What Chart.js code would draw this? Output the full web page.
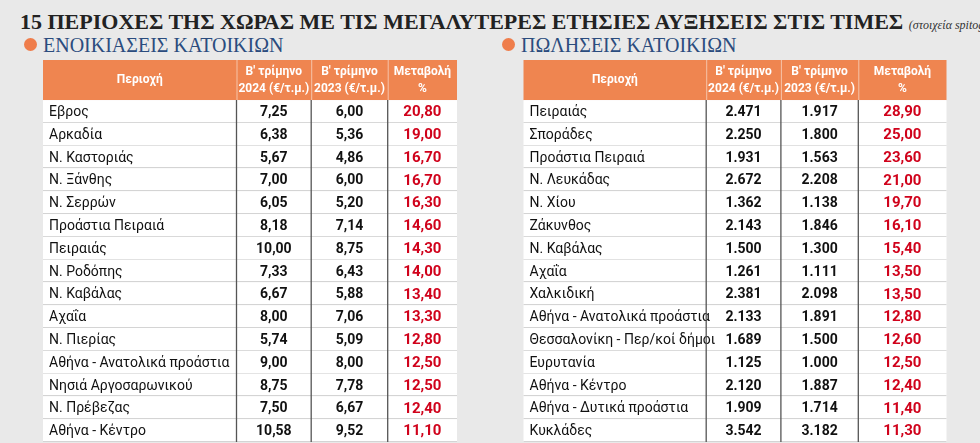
<!DOCTYPE html>
<html><head><meta charset="utf-8">
<script src="https://cdn.jsdelivr.net/npm/chart.js@4/dist/chart.umd.min.js"></script>
<style>
body{margin:0;background:#e9e9e9;width:980px;height:443px;overflow:hidden;position:relative;font-family:Roboto,sans-serif}
.t{position:absolute;left:20px;top:9px;font:bold 22px "Liberation Serif",serif;color:#222;white-space:nowrap}
.t small{font:italic 12px "Liberation Serif",serif;font-weight:normal;color:#333}
.s{position:absolute;top:34px;font:20px "Liberation Serif",serif;color:#2b4c7e;white-space:nowrap}
.s b{display:inline-block;width:13px;height:13px;border-radius:50%;background:#ef7d4b;margin-right:6px;vertical-align:1px}
canvas{position:absolute}
</style></head><body>
<div class="t">15 ΠΕΡΙΟΧΕΣ ΤΗΣ ΧΩΡΑΣ ΜΕ ΤΙΣ ΜΕΓΑΛΥΤΕΡΕΣ ΕΤΗΣΙΕΣ ΑΥΞΗΣΕΙΣ ΣΤΙΣ ΤΙΜΕΣ <small>(στοιχεία spitogatos)</small></div>
<div class="s" style="left:24px"><b></b>ΕΝΟΙΚΙΑΣΕΙΣ ΚΑΤΟΙΚΙΩΝ</div>
<div class="s" style="left:502px"><b></b>ΠΩΛΗΣΕΙΣ ΚΑΤΟΙΚΙΩΝ</div>
<div style="position:absolute;left:20px;top:60px;width:460px;height:382px"><canvas id="c1"></canvas></div>
<div style="position:absolute;left:500px;top:60px;width:470px;height:382px"><canvas id="c2"></canvas></div>
<script>
const headers = ["Περιοχή", "Β' τρίμηνο\n2024 (€/τ.μ.)", "Β' τρίμηνο\n2023 (€/τ.μ.)", "Μεταβολή\n%"];

const rentAreas = ["Εβρος","Αρκαδία","Ν. Καστοριάς","Ν. Ξάνθης","Ν. Σερρών","Προάστια Πειραιά","Πειραιάς","Ν. Ροδόπης","Ν. Καβάλας","Αχαΐα","Ν. Πιερίας","Αθήνα - Ανατολικά προάστια","Νησιά Αργοσαρωνικού","Ν. Πρέβεζας","Αθήνα - Κέντρο"];
const rent2024 = [7.25,6.38,5.67,7.00,6.05,8.18,10.00,7.33,6.67,8.00,5.74,9.00,8.75,7.50,10.58];
const rent2023 = [6.00,5.36,4.86,6.00,5.20,7.14,8.75,6.43,5.88,7.06,5.09,8.00,7.78,6.67,9.52];
const rentChange = [20.80,19.00,16.70,16.70,16.30,14.60,14.30,14.00,13.40,13.30,12.80,12.50,12.50,12.40,11.10];

const saleAreas = ["Πειραιάς","Σποράδες","Προάστια Πειραιά","Ν. Λευκάδας","Ν. Χίου","Ζάκυνθος","Ν. Καβάλας","Αχαΐα","Χαλκιδική","Αθήνα - Ανατολικά προάστια","Θεσσαλονίκη - Περ/κοί δήμοι","Ευρυτανία","Αθήνα - Κέντρο","Αθήνα - Δυτικά προάστια","Κυκλάδες"];
const sale2024 = [2471,2250,1931,2672,1362,2143,1500,1261,2381,2133,1689,1125,2120,1909,3542];
const sale2023 = [1917,1800,1563,2208,1138,1846,1300,1111,2098,1891,1500,1000,1887,1714,3182];
const saleChange = [28.90,25.00,23.60,21.00,19.70,16.10,15.40,13.50,13.50,12.80,12.60,12.50,12.40,11.40,11.30];

const fmtDec = v => v.toFixed(2).replace('.', ',');
const fmtInt = v => v.toLocaleString('de-DE');

function makeTable(id, areas, a, b, chg, fmt, cols) {
  const tablePlugin = {
    id: 'table',
    afterDraw(chart) {
      const c = chart.ctx, x = chart.scales.x, y = chart.scales.y;
      const X = i => x.getPixelForValue(cols[i]);
      // header
      const hy0 = y.getPixelForValue(-1.76), hy1 = y.getPixelForValue(0);
      c.fillStyle = '#ef8550';
      c.fillRect(X(0), hy0, X(4) - X(0), hy1 - hy0);
      c.fillStyle = '#fff';
      c.font = 'bold 12px Roboto';
      c.textAlign = 'center'; c.textBaseline = 'middle';
      headers.forEach((h, i) => {
        const lines = h.split('\n');
        const cx = (X(i) + X(i + 1)) / 2, cy = (hy0 + hy1) / 2;
        lines.forEach((l, k) => c.fillText(l, cx, cy + (k - (lines.length - 1) / 2) * 17));
      });
      c.strokeStyle = '#f6c3a8'; c.lineWidth = 1;
      for (let i = 1; i < 4; i++) { c.beginPath(); c.moveTo(X(i) + .5, hy0); c.lineTo(X(i) + .5, hy1); c.stroke(); }
      // rows
      areas.forEach((name, r) => {
        const y0 = y.getPixelForValue(r), y1 = y.getPixelForValue(r + 1), cy = (y0 + y1) / 2 + 1;
        c.fillStyle = '#fff';
        c.fillRect(X(0), y0, X(4) - X(0), y1 - y0);
        c.strokeStyle = '#d4d4d4'; c.lineWidth = 1;
        c.beginPath(); c.moveTo(X(0), Math.round(y1) - .5); c.lineTo(X(4), Math.round(y1) - .5); c.stroke();
        c.textAlign = 'left'; c.fillStyle = '#111'; c.font = '14px Roboto';
        c.fillText(name, X(0) + 6, cy);
        c.textAlign = 'center'; c.font = 'bold 14px Roboto';
        c.fillText(fmt(a[r]), (X(1) + X(2)) / 2, cy);
        c.fillText(fmt(b[r]), (X(2) + X(3)) / 2, cy);
        c.fillStyle = '#d0021b'; c.font = 'bold 15px Roboto';
        c.fillText(fmtDec(chg[r]), (X(3) + X(4)) / 2, cy);
      });
      const by0 = y.getPixelForValue(0), by1 = y.getPixelForValue(areas.length);
      c.strokeStyle = '#555'; c.lineWidth = 1.3;
      for (let i = 1; i < 4; i++) { c.beginPath(); c.moveTo(X(i), by0); c.lineTo(X(i), by1); c.stroke(); }
    }
  };
  return new Chart(document.getElementById(id), {
    type: 'bar',
    data: { labels: areas, datasets: [] },
    options: {
      responsive: true, maintainAspectRatio: false, animation: false,
      layout: { padding: 0 },
      plugins: { legend: { display: false }, tooltip: { enabled: false } },
      scales: {
        x: { type: 'linear', display: false, min: 0, max: cols[4] },
        y: { type: 'linear', display: false, min: -1.76, max: areas.length, reverse: true }
      }
    },
    plugins: [tablePlugin]
  });
}

makeTable('c1', rentAreas, rent2024, rent2023, rentChange, fmtDec, [0, 215, 298, 383, 460]);
makeTable('c2', saleAreas, sale2024, sale2023, saleChange, fmtInt, [0, 203, 286, 372, 470]);
</script>
</body></html>
